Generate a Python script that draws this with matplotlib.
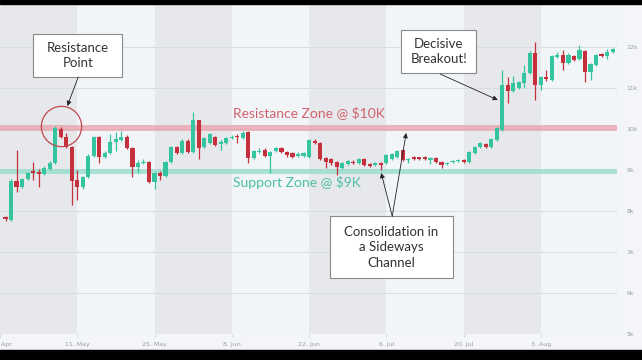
import matplotlib
matplotlib.use('Agg')
import matplotlib.pyplot as plt
import matplotlib.dates as mdates
from matplotlib.patches import Rectangle
import pandas as pd

# Daily OHLC, 28 Apr .. 2 Aug
opens = [7846, 7773, 8725, 8580, 8775, 8970, 8940, 8890, 9020, 9160, 10000, 9800, 9550,
         8740, 8570, 8820, 9330, 9790, 9310, 9400, 9680, 9720, 9800, 9530, 9070, 9160, 9190,
         8700, 8920, 8850, 9190, 9550, 9410, 9710, 9420, 10200, 9550, 9650, 9790, 9630, 9650,
         9770, 9820, 9770, 9920, 9280, 9430, 9480, 9330, 9460, 9530, 9430, 9400, 9330, 9330,
         9310, 9700, 9650, 9280, 9260, 9190, 9040, 9140, 9190, 9160, 9260, 9140, 9110, 9160,
         9160, 9260, 9310, 9480, 9240, 9310, 9300, 9310, 9230, 9280, 9190, 9140, 9180, 9210,
         9240, 9190, 9410, 9550, 9630, 9560, 9730, 9970, 11060, 10920, 10990, 11110, 11360,
         11840, 11060, 11260, 11190, 11750, 11800, 11600, 11780, 11700, 11900, 11380, 11550,
         11820, 11770, 11870]
highs = [7870, 8775, 9480, 8800, 8950, 9190, 9010, 9080, 9200, 10060, 10030, 9900, 9580,
         8990, 8850, 9380, 9830, 9830, 9450, 9880, 9930, 9950, 9850, 9550, 9230, 9260, 9210,
         8950, 8970, 9220, 9580, 9580, 9750, 9740, 10400, 10220, 9800, 9900, 9820, 9720, 9800,
         9850, 9860, 9950, 9950, 9480, 9520, 9520, 9460, 9560, 9560, 9460, 9420, 9420, 9440,
         9760, 9740, 9680, 9300, 9290, 9200, 9190, 9240, 9230, 9290, 9280, 9160, 9190, 9180,
         9390, 9410, 9490, 9500, 9290, 9330, 9320, 9330, 9300, 9300, 9210, 9190, 9230, 9260,
         9260, 9460, 9580, 9680, 9660, 9780, 10050, 11420, 11260, 11280, 11170, 11550, 11890,
         12110, 11290, 11430, 11800, 11870, 11920, 11840, 11800, 12030, 11920, 11600, 11830,
         11850, 11950, 11970]
lows = [7750, 7750, 8456, 8550, 8750, 8750, 8580, 8870, 9000, 9140, 9780, 9520, 8140,
        8260, 8520, 8800, 9300, 9160, 9280, 9380, 9450, 9700, 9500, 8820, 8920, 9140, 8680,
        8530, 8750, 8820, 9160, 9380, 9380, 9400, 9400, 9260, 9520, 9630, 9580, 9470, 9630,
        9740, 9650, 9750, 9160, 9260, 9400, 9300, 8930, 9430, 9400, 9300, 9280, 9300, 9300,
        9290, 9620, 9230, 9050, 9120, 8870, 9020, 9120, 9130, 9140, 9090, 9060, 9090, 8990,
        9140, 9240, 9290, 9220, 9170, 9240, 9240, 9230, 9150, 9170, 9040, 9110, 9160, 9190,
        9170, 9170, 9390, 9530, 9530, 9540, 9710, 9940, 10630, 10900, 10970, 10990, 11340,
        10700, 10940, 11160, 11170, 11720, 11420, 11570, 11660, 11680, 11150, 11180, 11530,
        11750, 11700, 11850]
closes = [7797, 8725, 8580, 8775, 8920, 8920, 8890, 9040, 9160, 10010, 9800, 9550, 8720,
          8570, 8820, 9330, 9800, 9310, 9400, 9680, 9750, 9800, 9530, 9070, 9160, 9190, 8700,
          8920, 8850, 9190, 9550, 9410, 9710, 9420, 10200, 9530, 9770, 9870, 9600, 9670, 9770,
          9790, 9790, 9900, 9280, 9450, 9460, 9330, 9430, 9530, 9430, 9360, 9310, 9380, 9410,
          9720, 9650, 9260, 9190, 9160, 9070, 9160, 9210, 9160, 9260, 9110, 9090, 9160, 9110,
          9360, 9380, 9460, 9240, 9260, 9260, 9260, 9250, 9280, 9190, 9110, 9160, 9210, 9240,
          9190, 9430, 9550, 9650, 9560, 9750, 10020, 11060, 10920, 11110, 11140, 11360, 11840,
          11060, 11260, 11210, 11770, 11800, 11600, 11800, 11680, 11920, 11380, 11580, 11800,
          11770, 11870, 11940]

dates = pd.date_range('2020-04-28', periods=len(opens), freq='D')
tick_dates = pd.date_range('2020-04-27', '2020-08-03', freq='14D')
tick_labels = ['27. Apr', '11. May', '25. May', '8. Jun', '22. Jun', '6. Jul', '20. Jul', '3. Aug']
price_ticks = [5000, 6000, 7000, 8000, 9000, 10000, 11000, 12000]
price_labels = ['5k', '6k', '7k', '8k', '9k', '10k', '11k', '12k']

green = '#35c4a0'
red = '#c4303c'
bg = '#f3f5f8'

fig = plt.figure(figsize=(6.42, 3.6), dpi=100, facecolor=bg)
ax = fig.add_axes([0, 26 / 360, 617 / 642, 330 / 360])
ax.set_facecolor(bg)

base = mdates.date2num(pd.Timestamp('2020-05-11'))
ax.set_xlim(base - 13.95, base + 97.8)
ax.set_ylim(4993, 13041)

# alternating two-week bands
edges = mdates.date2num(pd.date_range('2020-04-27', '2020-08-31', freq='14D'))
for i in range(len(edges) - 1):
    ax.axvspan(edges[i], edges[i + 1], color='#e7e8eb' if i % 2 == 0 else '#f2f5f8', lw=0, zorder=0)

for p in price_ticks:
    ax.axhline(p, color='#d9dce0', lw=0.7, zorder=1)

# zones
ax.axhspan(9940, 10090, color='#eba0a7', alpha=0.75, lw=0, zorder=2)
ax.axhspan(8895, 9020, color='#92dccb', alpha=0.75, lw=0, zorder=2)

# candles
xs = mdates.date2num(dates)
for xi, o, h, l, c in zip(xs, opens, highs, lows, closes):
    col = green if c >= o else red
    ax.vlines(xi, l, h, color=col, lw=0.9, zorder=3)
    ax.bar(xi, max(abs(c - o), 30), bottom=min(o, c), width=0.75, color=col, lw=0, zorder=4)

# ticks
ax.set_xticks(mdates.date2num(tick_dates))
ax.set_xticklabels(tick_labels)
ax.set_yticks(price_ticks)
ax.set_yticklabels(price_labels)
ax.yaxis.tick_right()
ax.tick_params(axis='y', length=0, pad=7, labelsize=4.5, labelcolor='#9a9ea4')
ax.tick_params(axis='x', length=2.5, width=0.5, color='#c8ccd0', pad=3, labelsize=4.5, labelcolor='#9a9ea4')
for s in ax.spines.values():
    s.set_visible(False)

font = 'Lato'
ax.text(base + 28.3, 10383, 'Resistance Zone @ $10K', color='#d2636c', fontsize=10,
        family=font, va='center', ha='left', zorder=6)
ax.text(base + 28.3, 8676, 'Support Zone @ $9K', color='#4dbfa8', fontsize=10,
        family=font, va='center', ha='left', zorder=6)

# circle around the resistance point
ax.plot([base - 2.95], [10070], 'o', ms=29, mfc='none', mec='#c0474f', mew=0.9, zorder=6)


def box(x0, x1, y0, y1, text):
    ax.add_patch(Rectangle((base + x0, y0), x1 - x0, y1 - y0, fc='white', ec='#8a8a8a',
                           lw=0.8, zorder=7))
    ax.text(base + (x0 + x1) / 2, (y0 + y1) / 2, text, ha='center', va='center',
            fontsize=9.5, family=font, color='#333333', linespacing=1.35, zorder=8)


def arrow(x0, y0, x1, y1):
    ax.annotate('', xy=(base + x1, y1), xytext=(base + x0, y0),
                arrowprops=dict(arrowstyle='-|>', color='#222222', lw=0.6,
                                mutation_scale=7, shrinkA=0, shrinkB=0), zorder=8)


box(-7.97, 8.15, 11260, 12310, 'Resistance\nPoint')
arrow(0.18, 11260, -1.8, 10554)

box(58.7, 72.3, 11359, 12407, 'Decisive\nBreakout!')
arrow(65.76, 11333, 76.2, 10700)

box(45.8, 68.1, 6356, 7868, 'Consolidation in\na Sideways\nChannel')
arrow(57.07, 7868, 55.07, 8920)
arrow(57.07, 7868, 59.6, 9895)

# black strips of the screenshot
fig.add_artist(Rectangle((0, 0), 1, 10 / 360, transform=fig.transFigure, color='black'))
fig.add_artist(Rectangle((0, 356 / 360), 1, 4 / 360, transform=fig.transFigure, color='black'))

fig.savefig('out.png', dpi=100, facecolor=bg)
